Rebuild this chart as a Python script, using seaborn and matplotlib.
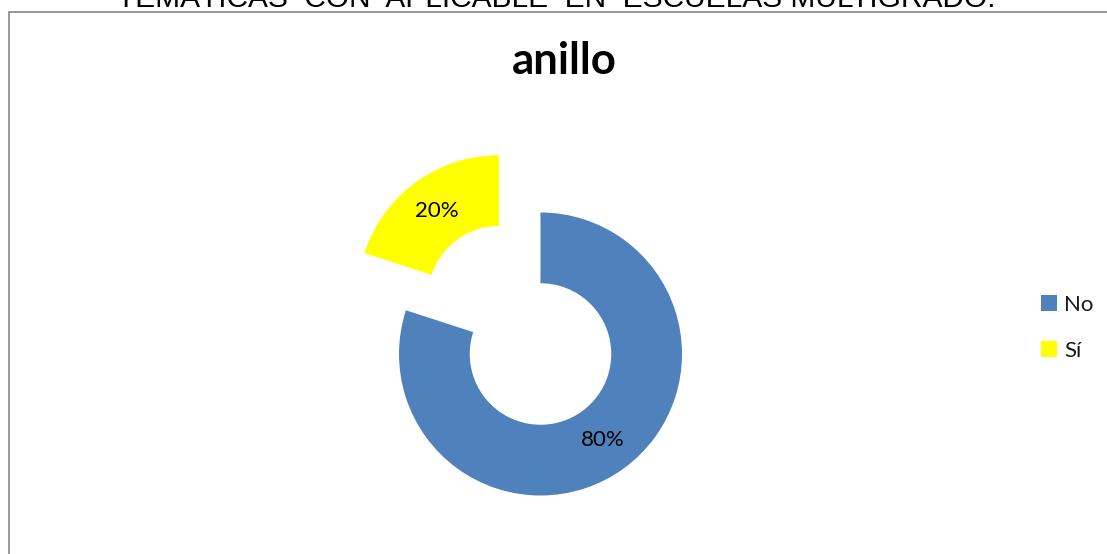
import matplotlib
matplotlib.use("Agg")
import matplotlib.pyplot as plt
import seaborn as sns
from matplotlib.patches import Rectangle, Patch

categories = ["No", "Sí"]
values = [80, 20]
colors = ["#4F81BD", "#FFFF00"]
explode_amount = [0.0, 0.5]
chart_title = "anillo"
top_text = "TEMÁTICAS  CON  APLICABLE  EN  ESCUELAS MULTIGRADO."

sns.set_theme(style="white")
plt.rcParams['font.family'] = ['Lato', 'DejaVu Sans']

W, H = 1107, 554
fig = plt.figure(figsize=(W / 100, H / 100), dpi=100)
fig.patch.set_facecolor("white")

# pie geometry in pixels
cx, cy, R = 540.5, 354.0, 141.5
ax = fig.add_axes([0, 0, 1, 1])
ax.axis("off")

wedges, texts, autotexts = ax.pie(
    values, colors=colors, explode=explode_amount, startangle=90,
    counterclock=False, autopct="%1.0f%%", pctdistance=0.75,
    radius=1.0, wedgeprops=dict(width=0.5, edgecolor="none"),
    textprops=dict(fontsize=16, color="black"),
)
ax.set_xlim(-cx / R, (W - cx) / R)
ax.set_ylim(-(H - cy) / R, cy / R)

# frame of the chart area
fig.patches.append(Rectangle((9 / W, -0.1), 1.2, (H - 12) / H + 0.1,
                             transform=fig.transFigure, fill=False,
                             edgecolor="#868686", linewidth=1.2))

fig.text(564.5 / W, 1 - 74 / H, chart_title, ha="center", va="baseline",
         fontsize=31.5, fontweight="bold", color="black")
fig.text(556 / W, 1 - 7 / H, top_text, ha="center", va="baseline",
         fontsize=21.5, color="black", family=["Liberation Sans", "DejaVu Sans"])

handles = [Patch(facecolor=c, edgecolor="none") for c in colors]
leg = fig.legend(handles, categories, loc="upper left",
                 bbox_to_anchor=(1021 / W, 1 - 275 / H), frameon=False,
                 fontsize=16, handlelength=0.7, handleheight=0.7,
                 handletextpad=0.35, labelspacing=1.15)
for t in leg.get_texts():
    t.set_color("#1a1a1a")

fig.savefig("out.png", dpi=100, facecolor="white")
